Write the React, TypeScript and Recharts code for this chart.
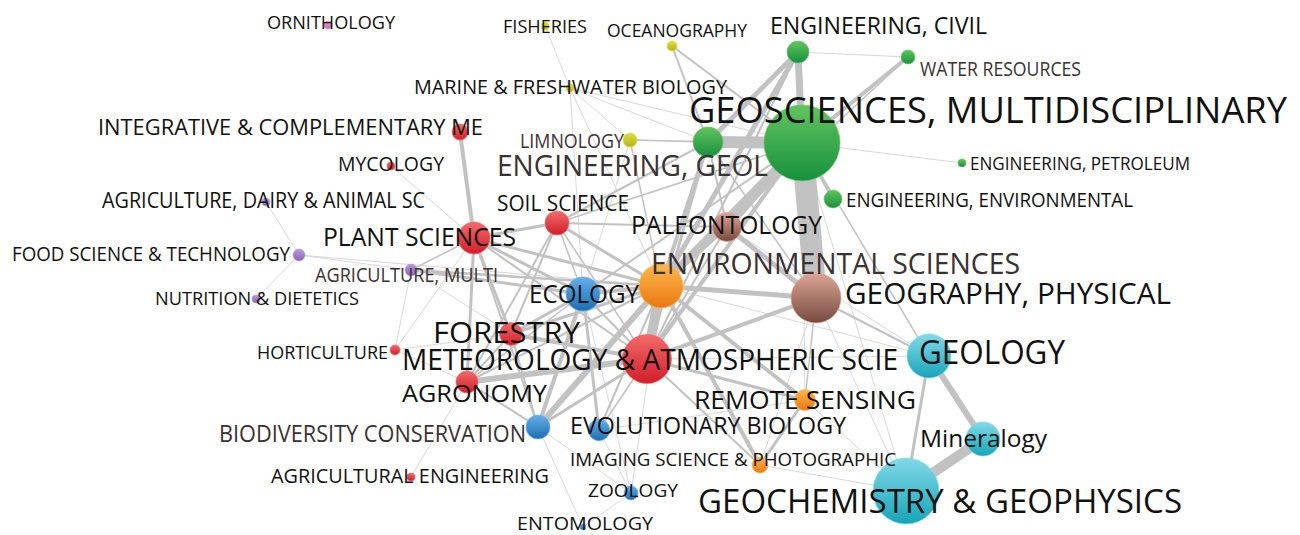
import React from "react";
import { ScatterChart, Scatter, XAxis, YAxis, ZAxis } from "recharts";

// Carte de co-occurrence des catégories (coordonnées de la carte, poids, cluster)
const NODE_KEYS = [
  "orni", "fish", "ocean", "civil", "water", "marine", "geosci", "integ", "limno", "engGeol",
  "myco", "petro", "dairy", "soil", "engEnv", "paleo", "plant", "food", "envSci", "agMulti",
  "nutri", "eco", "geog", "forest", "horti", "meteo", "geol", "agro", "remote", "biodiv",
  "evol", "miner", "imaging", "agEng", "zoo", "geochem", "ento",
];

const NODE_LABELS = [
  "ORNITHOLOGY", "FISHERIES", "OCEANOGRAPHY", "ENGINEERING, CIVIL", "WATER RESOURCES",
  "MARINE & FRESHWATER BIOLOGY", "GEOSCIENCES, MULTIDISCIPLINARY", "INTEGRATIVE & COMPLEMENTARY ME",
  "LIMNOLOGY", "ENGINEERING, GEOL", "MYCOLOGY", "ENGINEERING, PETROLEUM", "AGRICULTURE, DAIRY & ANIMAL SC",
  "SOIL SCIENCE", "ENGINEERING, ENVIRONMENTAL", "PALEONTOLOGY", "PLANT SCIENCES", "FOOD SCIENCE & TECHNOLOGY",
  "ENVIRONMENTAL SCIENCES", "AGRICULTURE, MULTI", "NUTRITION & DIETETICS", "ECOLOGY", "GEOGRAPHY, PHYSICAL",
  "FORESTRY", "HORTICULTURE", "METEOROLOGY & ATMOSPHERIC SCIE", "GEOLOGY", "AGRONOMY", "REMOTE SENSING",
  "BIODIVERSITY CONSERVATION", "EVOLUTIONARY BIOLOGY", "Mineralogy", "IMAGING SCIENCE & PHOTOGRAPHIC",
  "AGRICULTURAL ENGINEERING", "ZOOLOGY", "GEOCHEMISTRY & GEOPHYSICS", "ENTOMOLOGY",
];

const NODE_X = [
  328, 545, 672, 798, 908, 570, 802, 460, 630, 708,
  391, 962, 266, 557, 833, 727, 474, 299, 661, 411,
  256, 583, 816, 511, 395, 647, 929, 467, 805, 538,
  599, 983, 760, 411, 631, 906, 583,
];

const NODE_Y = [
  25, 26, 46, 52, 57, 88, 143, 132, 140, 142,
  166, 163, 202, 223, 199, 227, 238, 255, 286, 270,
  299, 294, 298, 334, 350, 359, 356, 382, 400, 427,
  430, 439, 465, 477, 493, 491, 527,
];

const NODE_WEIGHT = [
  16, 16, 25, 121, 49, 16, 1444, 64, 49, 225,
  16, 16, 16, 144, 81, 210, 256, 36, 484, 36,
  16, 289, 625, 130, 25, 600, 484, 121, 110, 144,
  115, 289, 64, 16, 49, 1089, 9,
];

const NODE_CLUSTER = [
  "pink", "yellow", "yellow", "green", "green", "yellow", "green", "red", "yellow", "green",
  "red", "green", "purple", "red", "green", "brown", "red", "purple", "orange", "purple",
  "purple", "blue", "brown", "red", "red", "red", "cyan", "red", "orange", "blue",
  "blue", "cyan", "orange", "red", "blue", "cyan", "blue",
];

// liens : source, cible, force
const LINKS: [string, string, number][] = [
  ["geosci", "geog", 22], ["geosci", "engGeol", 12], ["geosci", "civil", 7], ["geosci", "envSci", 8],
  ["geosci", "paleo", 8], ["geosci", "meteo", 4], ["geosci", "water", 4], ["geosci", "engEnv", 3],
  ["geosci", "ocean", 2], ["geosci", "petro", 1], ["geosci", "geol", 1.5], ["geosci", "geochem", 1],
  ["geosci", "remote", 1], ["geosci", "limno", 1], ["geosci", "soil", 1.5], ["geosci", "eco", 2],
  ["geosci", "marine", 1],
  ["civil", "engGeol", 5], ["civil", "water", 1], ["civil", "envSci", 5], ["civil", "meteo", 2],
  ["water", "envSci", 1.5],
  ["engGeol", "envSci", 4], ["engGeol", "limno", 1.5], ["engGeol", "ocean", 2], ["engGeol", "meteo", 3],
  ["engGeol", "soil", 2], ["engGeol", "marine", 1], ["engGeol", "geog", 1.5], ["engGeol", "paleo", 2],
  ["envSci", "meteo", 10], ["envSci", "geog", 5], ["envSci", "eco", 4], ["envSci", "biodiv", 6],
  ["envSci", "forest", 3], ["envSci", "agro", 2], ["envSci", "paleo", 4], ["envSci", "soil", 3],
  ["envSci", "plant", 3], ["envSci", "remote", 4], ["envSci", "imaging", 4], ["envSci", "evol", 2],
  ["envSci", "limno", 1.5], ["envSci", "marine", 1], ["envSci", "agMulti", 2.5], ["envSci", "food", 1],
  ["envSci", "geol", 1], ["envSci", "zoo", 1],
  ["meteo", "forest", 4], ["meteo", "agro", 6], ["meteo", "biodiv", 3], ["meteo", "geog", 4],
  ["meteo", "remote", 3], ["meteo", "eco", 2], ["meteo", "paleo", 2], ["meteo", "plant", 2],
  ["meteo", "imaging", 2], ["meteo", "soil", 1.5], ["meteo", "geol", 1], ["meteo", "evol", 1.5],
  ["geog", "paleo", 5], ["geog", "geol", 2], ["geog", "remote", 1.5], ["geog", "geochem", 1],
  ["geog", "imaging", 1],
  ["geol", "miner", 6], ["geol", "geochem", 3], ["miner", "geochem", 10], ["geol", "paleo", 1],
  ["imaging", "geochem", 1], ["remote", "imaging", 3], ["remote", "geochem", 1], ["evol", "remote", 1],
  ["plant", "integ", 4], ["plant", "soil", 3], ["plant", "agro", 3], ["plant", "forest", 3],
  ["plant", "eco", 3], ["plant", "myco", 1], ["plant", "agMulti", 1.5], ["plant", "horti", 1],
  ["plant", "biodiv", 2],
  ["soil", "forest", 2], ["soil", "paleo", 2], ["soil", "agro", 2], ["soil", "eco", 1.5],
  ["eco", "biodiv", 4], ["eco", "evol", 3], ["eco", "forest", 3], ["eco", "agMulti", 3],
  ["eco", "agro", 1.5], ["eco", "zoo", 1], ["eco", "limno", 1], ["eco", "marine", 1],
  ["forest", "agro", 2], ["forest", "biodiv", 2], ["forest", "horti", 1], ["forest", "agMulti", 1],
  ["agro", "agEng", 1], ["agro", "horti", 1], ["agro", "biodiv", 2],
  ["biodiv", "ento", 1], ["biodiv", "zoo", 1], ["evol", "zoo", 1], ["zoo", "ento", 1],
  ["food", "dairy", 1], ["food", "nutri", 1], ["food", "agMulti", 1], ["agMulti", "horti", 1],
  ["marine", "fish", 1], ["marine", "limno", 1],
];

// mise en forme des étiquettes : décalage x, décalage y, taille, largeur, gris
const LABEL_STYLE: Record<string, [number, number, number, number, boolean]> = {
  orni: [-61, -2, 18, 128, false],
  fish: [-42, 0, 19, 84, false],
  ocean: [-65, -15, 18, 140, false],
  civil: [-28, -26, 23, 217, false],
  water: [12, 12, 20, 161, true],
  marine: [-156, -1, 20, 313, false],
  geosci: [-113, -33, 36, 598, false],
  integ: [-362, -5, 22, 385, false],
  limno: [-110, 1, 20, 104, true],
  engGeol: [-211, 24, 29, 271, true],
  myco: [-53, -2, 20, 106, false],
  petro: [8, 0, 19, 220, false],
  dairy: [-164, -1, 21, 323, false],
  soil: [-60, -19, 21, 132, false],
  engEnv: [13, 1, 20, 287, false],
  paleo: [-96, -2, 25, 191, false],
  plant: [-151, -1, 26, 193, false],
  food: [-287, -1, 20, 278, false],
  envSci: [-10, -22, 29, 369, true],
  agMulti: [-96, 5, 20, 183, true],
  nutri: [-101, -1, 19, 204, false],
  eco: [-54, 0, 25, 110, false],
  geog: [29, -4, 29, 326, false],
  forest: [-78, -2, 30, 147, false],
  horti: [-138, 2, 19, 131, false],
  meteo: [-245, 1, 29, 496, false],
  geol: [-10, -4, 33, 146, false],
  agro: [-65, 11, 24, 145, false],
  remote: [-111, 0, 25, 222, false],
  biodiv: [-319, 6, 24, 307, true],
  evol: [-29, -4, 23, 276, false],
  miner: [-63, -1, 24, 127, false],
  imaging: [-190, -6, 19, 326, false],
  agEng: [-140, -1, 20, 278, false],
  zoo: [-43, -3, 19, 90, false],
  geochem: [-208, 11, 32, 484, false],
  ento: [-66, -3, 18, 136, false],
};

const CLUSTER_COLORS: Record<string, [string, string]> = {
  red: ["#f36a6a", "#d11e2a"],
  green: ["#62c45e", "#17903e"],
  blue: ["#66b0e8", "#1d6cb3"],
  yellow: ["#dede44", "#b4b414"],
  purple: ["#b999d9", "#8c64b6"],
  pink: ["#e8a0d8", "#c868b6"],
  orange: ["#fcb84c", "#eb7812"],
  brown: ["#dca596", "#774a3e"],
  cyan: ["#82d9e8", "#17a5b8"],
};

const nodes = NODE_KEYS.map((key, i) => ({
  key,
  name: NODE_LABELS[i],
  x: NODE_X[i],
  y: NODE_Y[i],
  w: NODE_WEIGHT[i],
  cluster: NODE_CLUSTER[i],
}));

const byKey: Record<string, (typeof nodes)[number]> = {};
nodes.forEach((n) => (byKey[n.key] = n));

const sortedLinks = [...LINKS].sort((a, b) => a[2] - b[2]);

const NodeShape = (props: any) => {
  const { cx, cy, payload } = props;
  if (cx == null || cy == null) return <g />;
  const r = props.width ? props.width / 2 : Math.sqrt(payload.w);
  const [top, bottom] = CLUSTER_COLORS[payload.cluster];
  const id = `grad-${payload.key}`;
  return (
    <g>
      <defs>
        <linearGradient id={id} x1="0" y1="0" x2="0" y2="1">
          <stop offset="0%" stopColor={top} />
          <stop offset="100%" stopColor={bottom} />
        </linearGradient>
      </defs>
      <circle cx={cx} cy={cy} r={r} fill={`url(#${id})`} stroke={top} strokeWidth={1} strokeOpacity={0.7} />
    </g>
  );
};

const LabelShape = (props: any) => {
  const { cx, cy, payload } = props;
  if (cx == null || cy == null) return <g />;
  const [dx, dy, fs, len, gray] = LABEL_STYLE[payload.key];
  return (
    <text
      x={cx + dx}
      y={cy + dy + fs * 0.357}
      fontSize={fs}
      fontFamily="'Open Sans', sans-serif"
      fill={gray ? "#3a3232" : "#111111"}
      textLength={len}
      lengthAdjust="spacingAndGlyphs"
    >
      {payload.name}
    </text>
  );
};

const NoDot = () => <g />;

export default function App() {
  return (
    <div style={{ position: "absolute", left: 0, top: 0, width: 1300, height: 535, background: "#fff" }}>
      <ScatterChart width={1300} height={535} margin={{ top: 0, right: 0, bottom: 0, left: 0 }}>
        <XAxis type="number" dataKey="x" domain={[0, 1300]} allowDataOverflow hide />
        <YAxis type="number" dataKey="y" domain={[0, 535]} allowDataOverflow reversed hide />
        <ZAxis type="number" dataKey="w" domain={[0, 1444]} range={[0, 4536]} />
        {sortedLinks.map(([s, t, v], i) => (
          <Scatter
            key={`link-${i}`}
            data={[
              { x: byKey[s].x, y: byKey[s].y, w: 0 },
              { x: byKey[t].x, y: byKey[t].y, w: 0 },
            ]}
            fill="none"
            line={{
              stroke: v <= 1 ? "#d8d8d8" : "#c2c2c2",
              strokeWidth: v <= 1 ? 1 : v,
            }}
            lineType="joint"
            shape={NoDot}
            legendType="none"
            isAnimationActive={false}
          />
        ))}
        <Scatter data={nodes} shape={NodeShape} legendType="none" isAnimationActive={false} />
        <Scatter data={nodes} shape={LabelShape} legendType="none" isAnimationActive={false} />
      </ScatterChart>
    </div>
  );
}
